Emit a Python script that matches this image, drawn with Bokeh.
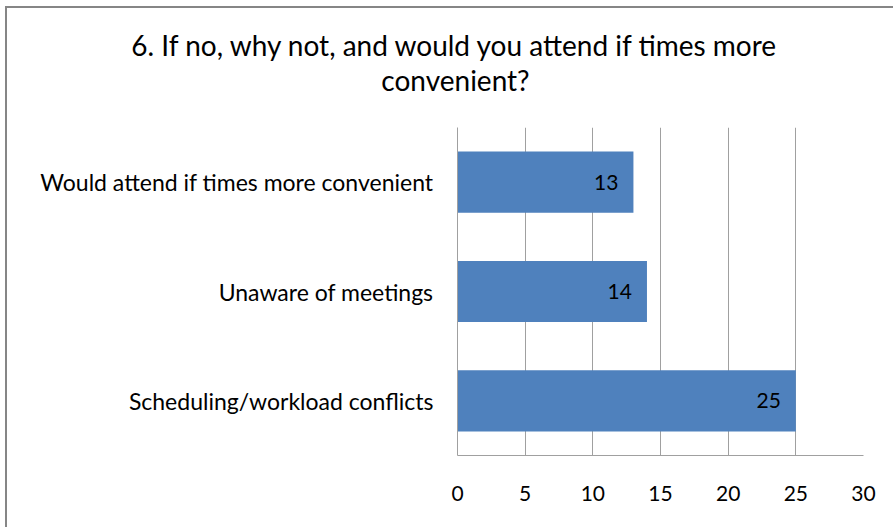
from bokeh.plotting import figure
from bokeh.layouts import column
from bokeh.models import ColumnDataSource, LabelSet, FactorRange, FixedTicker, Range1d
from bokeh.core.properties import value
from bokeh.embed import file_html
from bokeh.resources import INLINE

categories = ["Scheduling/workload conflicts", "Unaware of meetings", "Would attend if times more convenient"]
counts = [25, 14, 13]
x_ticks = [0, 5, 10, 15, 20, 25, 30]
title_lines = ["6. If no, why not, and would you attend if times more", "convenient?"]

FONT = "Lato"
BAR = "#4F81BD"
GRID = "#A0A0A0"
BORDER = "#868686"

W = 886          # canvas width (page at x=7 after margin + border)
TITLE_H = 100

# ---------- title strip ----------
t = figure(width=W, height=TITLE_H, x_range=Range1d(0, W), y_range=Range1d(0, TITLE_H),
           min_border=0, x_axis_location=None, y_axis_location=None,
           output_backend="svg", toolbar_location=None)
t.outline_line_color = None
t.grid.grid_line_color = None
t.border_fill_color = "white"
tsrc = ColumnDataSource(dict(x=[448, 448], y=[64, 29], text=title_lines))
t.text(x="x", y="y", text="text", source=tsrc, text_align="center", text_baseline="middle",
       text_font=value(FONT), text_font_size="28px", text_color="#000000")

# ---------- bar chart ----------
source = ColumnDataSource(dict(cat=categories, val=counts, lbl=[str(v) for v in counts]))

p = figure(
    y_range=FactorRange(*categories, range_padding=0),
    x_range=(0, 30),
    frame_width=406, frame_height=328,
    min_border_left=450, min_border_right=30, min_border_top=19, min_border_bottom=72,
    output_backend="svg", toolbar_location=None,
)
p.outline_line_color = None
p.background_fill_color = "white"
p.border_fill_color = "white"

p.hbar(y="cat", right="val", left=0, height=0.56, source=source, color=BAR, line_color=None)

labels = LabelSet(x="val", y="cat", text="lbl", source=source, x_offset=-15,
                  text_align="right", text_baseline="middle",
                  text_font=value(FONT), text_font_size="21px", text_color="#000000")
p.add_layout(labels)

p.xaxis.ticker = FixedTicker(ticks=x_ticks)
p.xaxis.axis_line_color = GRID
p.xaxis.major_tick_line_color = None
p.xaxis.minor_tick_line_color = None
p.xaxis.major_label_standoff = 24
p.xaxis.major_label_text_font = FONT
p.xaxis.major_label_text_font_size = "21px"
p.xaxis.major_label_text_color = "#000000"

p.yaxis.axis_line_color = GRID
p.yaxis.major_tick_line_color = None
p.yaxis.minor_tick_line_color = None
p.yaxis.major_label_standoff = 18
p.yaxis.major_label_text_font = FONT
p.yaxis.major_label_text_font_size = "23px"
p.yaxis.major_label_text_color = "#000000"

p.xgrid.grid_line_color = GRID
p.xgrid.ticker = FixedTicker(ticks=x_ticks)
p.ygrid.grid_line_color = None

layout = column(column(t), p, spacing=0,
                styles={"border-top": f"2px solid {BORDER}", "border-left": f"2px solid {BORDER}",
                        "margin-left": "5px", "margin-top": "6px"})

open("out.html", "w").write(file_html(layout, INLINE))
